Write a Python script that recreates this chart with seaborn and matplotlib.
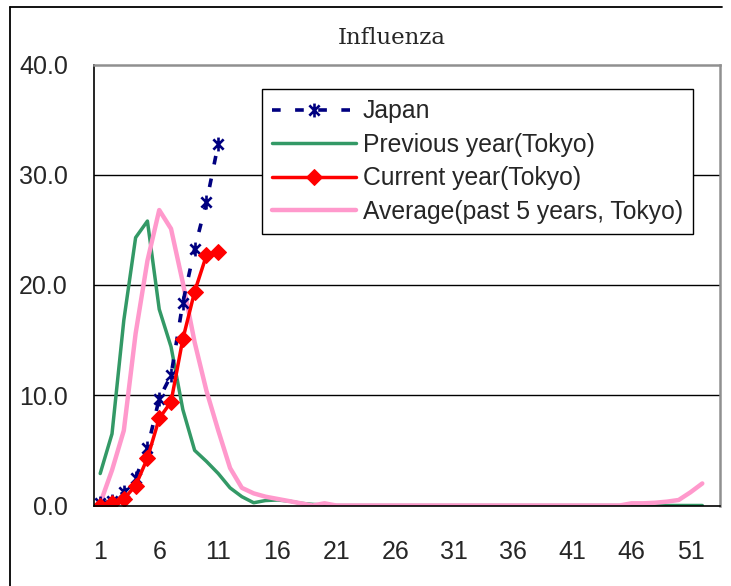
import numpy as np
import pandas as pd
import matplotlib
matplotlib.use("Agg")
import matplotlib.pyplot as plt
from matplotlib.path import Path
from matplotlib.lines import Line2D
import seaborn as sns

# ---------------- data ----------------
weeks_full = list(range(1, 53))
weeks_cur = list(range(1, 12))

japan = [0.2, 0.4, 1.2, 2.5, 5.2, 9.7, 11.8, 18.4, 23.3, 27.5, 32.8]
current_tokyo = [0.0, 0.2, 0.6, 1.8, 4.3, 7.9, 9.4, 15.1, 19.4, 22.7, 23.0]
previous_tokyo = [2.9, 6.5, 16.8, 24.3, 25.8, 17.8, 14.4, 8.7, 5.0, 4.0,
                  2.9, 1.6, 0.8, 0.25, 0.45, 0.5, 0.4, 0.2, 0.1, 0.05] + [0.0] * 32
average_tokyo = [0.2, 3.2, 6.8, 15.6, 22.2, 26.8, 25.1, 20.2, 14.8, 10.4,
                 6.8, 3.4, 1.6, 1.1, 0.8, 0.6, 0.4, 0.2, 0.0, 0.2] + [0.0] * 25 + \
                [0.2, 0.2, 0.25, 0.35, 0.5, 1.2, 2.0]

series_labels = ["Japan", "Previous year(Tokyo)", "Current year(Tokyo)",
                 "Average(past 5 years, Tokyo)"]
x_tick_labels = [str(w) for w in range(1, 52, 5)]
y_ticks = [0.0, 10.0, 20.0, 30.0, 40.0]
title = "Influenza"

# ---------------- figure ----------------
sns.set_style("white")
plt.rcParams["font.family"] = ["Liberation Sans", "DejaVu Sans"]

W, H = 731, 586
fig = plt.figure(figsize=(W / 100, H / 100), dpi=100)
ax_l, ax_r, ax_t, ax_b = 94.3, 720.0, 64.5, 505.5
ax = fig.add_axes([ax_l / W, 1 - ax_b / H, (ax_r - ax_l) / W, (ax_b - ax_t) / H])

star = Path([(-1, -1), (1, 1), (-1, 1), (1, -1), (0, -1.35), (0, 1.35)],
            [Path.MOVETO, Path.LINETO, Path.MOVETO, Path.LINETO, Path.MOVETO, Path.LINETO])

sns.lineplot(x=weeks_full, y=previous_tokyo, ax=ax, color="#339966", lw=2.5,
             label=series_labels[1], errorbar=None, sort=False)
sns.lineplot(x=weeks_full, y=average_tokyo, ax=ax, color="#FF99CC", lw=3.2,
             label=series_labels[3], errorbar=None, sort=False)
sns.lineplot(x=weeks_cur, y=japan, ax=ax, color="#000080", lw=2.6,
             linestyle=(0, (2.4, 4.0)), marker=star, markersize=10,
             markeredgewidth=1.9, markeredgecolor="#000080", markerfacecolor="none",
             label=series_labels[0], errorbar=None, sort=False)
sns.lineplot(x=weeks_cur, y=current_tokyo, ax=ax, color="#FF0000", lw=2.5,
             marker="D", markersize=8.5, markeredgecolor="#FF0000",
             markerfacecolor="#FF0000", label=series_labels[2], errorbar=None, sort=False)

ax.set_xlim(0.5, 53.5)
ax.set_ylim(0, 40)

# y axis
ax.set_yticks(y_ticks)
ax.set_yticklabels([f"{v:.1f}" for v in y_ticks])
ax.tick_params(axis="y", direction="out", length=4, width=1, color="black",
               pad=15, labelsize=18)
for v in y_ticks[1:-1]:
    ax.axhline(v, color="black", lw=1.0, zorder=0.5)

# x axis
ax.set_xticks(list(range(1, 52, 5)))
ax.set_xticklabels(x_tick_labels)
ax.set_xticks([0.5 + 5 * i for i in range(11)], minor=True)
ax.tick_params(axis="x", which="major", length=0, pad=25, labelsize=18)
ax.tick_params(axis="x", which="minor", direction="in", length=5, width=1, color="black")
ax.set_xlabel("")
ax.set_ylabel("")

for s in ["left", "bottom"]:
    ax.spines[s].set_color("black")
    ax.spines[s].set_linewidth(1.2)
for s in ["top", "right"]:
    ax.spines[s].set_color("#909090")
    ax.spines[s].set_linewidth(1.8)

# legend
handles, labels = ax.get_legend_handles_labels()
hmap = dict(zip(labels, handles))
leg = ax.legend([hmap[l] for l in series_labels], series_labels,
                loc="upper left", bbox_to_anchor=(262 / W, 1 - 89 / H),
                bbox_transform=fig.transFigure, borderaxespad=0,
                fontsize=17.8, handlelength=3.4, handletextpad=0.25,
                labelspacing=0.38, borderpad=0.42, frameon=True, fancybox=False,
                framealpha=1, edgecolor="black")
leg.get_frame().set_linewidth(1.0)

# title
fig.text(392 / W, 1 - 38 / H, title, ha="center", va="center",
         family=["DejaVu Serif"], fontsize=16.5)

# outer chart border (top and left visible)
fig.add_artist(Line2D([10 / W, 722 / W], [1 - 7 / H, 1 - 7 / H], transform=fig.transFigure,
                      color="black", lw=1.3))
fig.add_artist(Line2D([10 / W, 10 / W], [1 - 7 / H, 0], transform=fig.transFigure,
                      color="black", lw=1.3))

fig.savefig("out.png", dpi=100)
